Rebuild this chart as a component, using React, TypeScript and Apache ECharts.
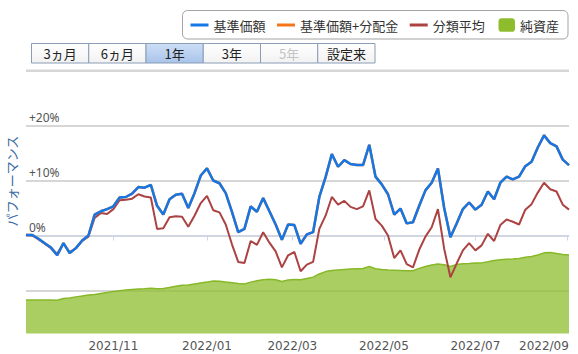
import React, { useEffect, useRef } from 'react';
import * as echarts from 'echarts';

// ---- data ----
const START_DATE = '2021-09-02';
const END_DATE = '2022-09-02';
const SAMPLE_STEP = 3; // one reading every 3rd business day

// 基準価額 (performance, %)
const navReturn = [
  0.1, 0.1, -0.6, -1.4, -2.2, -3.6, -1.4, -3.2, -2.3, -0.9,
  0.0, 3.8, 4.4, 4.8, 5.3, 6.9, 7.0, 7.6, 8.8, 8.7,
  9.2, 5.4, 3.8, 6.6, 7.4, 7.6, 5.0, 7.7, 10.9, 12.2,
  10.0, 9.5, 7.7, 4.3, 0.6, 1.2, 5.3, 4.3, 6.8, 4.4,
  2.0, -0.8, 2.0, 1.9, -1.5, 0.2, 0.6, 7.0, 10.6, 14.8,
  12.5, 13.7, 13.0, 12.8, 12.8, 16.5, 10.7, 9.3, 7.5, 3.8,
  4.9, 2.2, 2.4, 5.4, 8.2, 9.6, 12.2, 5.0, -0.3, 2.2,
  4.8, 6.0, 4.7, 5.6, 8.0, 6.6, 9.6, 10.7, 10.2, 10.7,
  12.6, 13.4, 16.0, 18.2, 16.8, 16.2, 13.8, 12.8,
];

// 基準価額+分配金 (no distributions in the period: identical to 基準価額)
const navWithDividend = [...navReturn];

// 分類平均 (%)
const categoryAvg = [
  0.1, 0.0, -0.7, -1.5, -2.3, -3.3, -1.5, -3.0, -2.3, -1.0,
  -0.2, 3.2, 4.1, 3.9, 4.8, 6.4, 6.5, 6.7, 7.5, 7.1,
  6.9, 1.2, 1.3, 3.3, 3.5, 3.4, 1.6, 3.6, 5.9, 7.2,
  4.6, 4.2, 2.0, -1.6, -4.8, -5.0, -1.0, -1.7, 0.6, -1.3,
  -2.9, -5.8, -3.6, -3.0, -6.5, -5.3, -4.8, 1.2, 3.6, 7.0,
  5.6, 6.3, 5.2, 4.8, 5.3, 8.2, 3.0, 1.8, 0.0, -4.1,
  -2.7, -5.2, -5.8, -2.6, -0.2, 1.5, 4.8, -2.4, -7.6, -5.1,
  -2.7, -1.4, -2.7, -1.8, 0.3, -1.0, 1.9, 2.9, 2.5, 2.0,
  4.7, 5.7, 7.8, 9.6, 8.4, 8.0, 5.6, 4.7,
];

// 純資産 (relative units on a hidden axis)
const netAssets = [
  12.7, 12.7, 12.7, 12.7, 12.7, 12.6, 13.3, 13.5, 13.9, 14.2,
  14.6, 14.8, 15.2, 15.6, 15.9, 16.2, 16.5, 16.7, 16.9, 17.0,
  17.2, 17.0, 17.1, 17.5, 17.9, 18.3, 18.4, 18.8, 19.2, 19.5,
  19.9, 19.8, 19.5, 19.3, 19.0, 18.8, 19.5, 20.0, 20.4, 20.6,
  20.4, 19.7, 20.3, 20.5, 20.4, 20.9, 21.4, 22.6, 23.5, 23.9,
  24.1, 24.3, 24.5, 24.6, 24.7, 25.4, 24.6, 24.3, 24.1, 24.0,
  23.9, 23.8, 23.8, 24.7, 25.4, 26.0, 26.4, 26.1, 25.4, 26.2,
  26.5, 26.6, 26.8, 26.8, 27.2, 27.7, 28.0, 28.2, 28.3, 28.5,
  28.9, 29.2, 29.8, 30.6, 30.7, 30.4, 30.0, 29.8,
];

const Y_MIN = -17.82;
const Y_MAX = 35; // headroom above the unlabelled +30% grid line
const TOP_GRID_VALUE = 30;
const ASSETS_MAX = 110.25;

const lineLegend = ['基準価額', '基準価額+分配金', '分類平均'];
const areaLegend = ['純資産'];
const periodButtons = ['3ヵ月', '6ヵ月', '1年', '3年', '5年', '設定来'];
const selectedPeriod = '1年';
const disabledPeriod = '5年';
const yAxisName = 'パフォーマンス';

const COLORS = {
  nav: '#1577e6',
  navDiv: '#f5761a',
  avg: '#ac4242',
  assets: '#8dbd2d',
  grid: '#d6d6d6',
};

function businessDays(start: string, end: string): string[] {
  const out: string[] = [];
  const d = new Date(start + 'T00:00:00Z');
  const e = new Date(end + 'T00:00:00Z');
  while (d.getTime() <= e.getTime()) {
    const wd = d.getUTCDay();
    if (wd !== 0 && wd !== 6) {
      const y = d.getUTCFullYear();
      const m = String(d.getUTCMonth() + 1).padStart(2, '0');
      const dd = String(d.getUTCDate()).padStart(2, '0');
      out.push(`${y}/${m}/${dd}`);
    }
    d.setUTCDate(d.getUTCDate() + 1);
  }
  return out;
}

export default function App() {
  const ref = useRef<HTMLDivElement>(null);

  useEffect(() => {
    if (!ref.current) return;
    const chart = echarts.init(ref.current, undefined, { renderer: 'svg' });

    const days = businessDays(START_DATE, END_DATE);
    const spread = (arr: number[]) =>
      days.map((_, k) => (k % SAMPLE_STEP === 0 && k / SAMPLE_STEP < arr.length ? arr[k / SAMPLE_STEP] : null));

    const isLabelDay = (index: number) => {
      if (index === 0) return false;
      const cur = days[index];
      const prev = days[index - 1];
      const m = parseInt(cur.slice(5, 7), 10);
      return cur.slice(5, 7) !== prev.slice(5, 7) && m % 2 === 1;
    };
    let lastLabelIdx = -1;
    days.forEach((_, i) => {
      if (isLabelDay(i)) lastLabelIdx = i;
    });

    const btnLeft = 31.5;
    const btnW = 57.25;
    const btnTop = 43.5;
    const btnH = 19.5;
    const buttonEls: any[] = [];
    periodButtons.forEach((label, i) => {
      const selected = label === selectedPeriod;
      buttonEls.push({
        type: 'rect',
        z: 10,
        shape: { x: btnLeft + i * btnW, y: btnTop, width: btnW, height: btnH },
        style: {
          fill: selected
            ? new echarts.graphic.LinearGradient(0, 0, 0, 1, [
                { offset: 0, color: '#cddff6' },
                { offset: 1, color: '#a9c3ea' },
              ])
            : new echarts.graphic.LinearGradient(0, 0, 0, 1, [
                { offset: 0, color: '#ffffff' },
                { offset: 1, color: '#f2f2f2' },
              ]),
          stroke: '#8a9cb6',
          lineWidth: 1,
        },
      });
      buttonEls.push({
        type: 'text',
        z: 11,
        x: btnLeft + i * btnW + btnW / 2,
        y: btnTop + btnH / 2 + 0.5,
        style: {
          text: label,
          fill: label === disabledPeriod ? '#c4c4c4' : '#222222',
          font: '13px "Noto Sans CJK JP"',
          align: 'center',
          verticalAlign: 'middle',
        },
      });
    });

    const baseGraphic: any[] = [
      {
        type: 'rect',
        z: -1,
        shape: { x: 182.5, y: 10.5, width: 385.5, height: 28.5, r: 5 },
        style: { fill: '#ffffff', stroke: '#a3a3a3', lineWidth: 1 },
      },
      ...buttonEls,
      {
        type: 'text',
        x: 11,
        y: 181,
        rotation: Math.PI / 2,
        style: {
          text: yAxisName,
          fill: '#3d6ca3',
          font: '13px "Noto Sans CJK JP"',
          align: 'center',
          verticalAlign: 'middle',
        },
      },
    ];

    const option: any = {
      animation: false,
      backgroundColor: '#ffffff',
      grid: { left: 26, right: 9, top: 43, bottom: 20.5, containLabel: false },
      legend: [
        {
          data: lineLegend,
          left: 190.5,
          top: 17,
          orient: 'horizontal',
          icon: 'rect',
          itemWidth: 18,
          itemHeight: 3,
          itemGap: 11.5,
          padding: 0,
          selectedMode: false,
          textStyle: { fontSize: 13, color: '#333333', fontFamily: '"Noto Sans CJK JP"', lineHeight: 16, padding: [0, 0, 0, 0] },
        },
        {
          data: areaLegend,
          left: 498.5,
          top: 17,
          icon: 'roundRect',
          itemWidth: 16.5,
          itemHeight: 13.5,
          padding: 0,
          selectedMode: false,
          textStyle: { fontSize: 13, color: '#333333', fontFamily: '"Noto Sans CJK JP"', lineHeight: 16 },
        },
      ],
      graphic: baseGraphic,
      xAxis: {
        type: 'category',
        data: days,
        boundaryGap: false,
        axisLine: { show: true, lineStyle: { color: '#ccd6eb', width: 1 } },
        axisTick: {
          show: true,
          length: 5,
          interval: (index: number) => isLabelDay(index),
          lineStyle: { color: '#ccd6eb' },
        },
        axisLabel: {
          interval: (index: number) => isLabelDay(index),
          color: '#555555',
          fontSize: 12,
          fontFamily: '"DejaVu Sans"',
          margin: 6,
          formatter: (value: string, index: number) => {
            const t = value.slice(0, 7);
            return index === lastLabelIdx ? `{r|${t}}` : t;
          },
          rich: {
            r: { color: '#555555', fontSize: 12, fontFamily: '"DejaVu Sans"', padding: [0, 46, 0, 0] },
          },
        },
        splitLine: { show: false },
      },
      yAxis: [
        {
          type: 'value',
          min: Y_MIN,
          max: Y_MAX,
          splitNumber: 5,
          axisLine: { show: false },
          axisTick: { show: false },
          splitLine: {
            show: true,
            showMinLine: false,
            showMaxLine: false,
            lineStyle: { color: COLORS.grid, width: 2 },
          },
          axisLabel: {
            inside: true,
            margin: 3,
            verticalAlign: 'bottom',
            padding: [0, 0, 2, 0],
            color: '#555555',
            fontSize: 12,
            fontFamily: '"Noto Sans"',
            formatter: (v: number) => {
              if (Math.abs(v) < 1e-9) return '0%';
              if (v > 0 && v < 29.9 && Math.abs(v % 10) < 1e-9) return `+${v}%`;
              return '';
            },
          },
          z: 0,
        },
        { type: 'value', min: 0, max: ASSETS_MAX, show: false, splitLine: { show: false } },
      ],
      series: [
        {
          name: '純資産',
          type: 'line',
          yAxisIndex: 1,
          data: spread(netAssets),
          connectNulls: true,
          symbol: 'none',
          showSymbol: false,
          lineStyle: { color: '#86b828', width: 1.5 },
          itemStyle: { color: COLORS.assets },
          areaStyle: { color: COLORS.assets, opacity: 0.74 },
          z: 1,
        },
        {
          name: '分類平均',
          type: 'line',
          data: spread(categoryAvg),
          connectNulls: true,
          symbol: 'none',
          showSymbol: false,
          lineStyle: { color: COLORS.avg, width: 2 },
          itemStyle: { color: COLORS.avg },
          z: 2,
        },
        {
          name: '基準価額+分配金',
          type: 'line',
          data: spread(navWithDividend),
          connectNulls: true,
          symbol: 'none',
          showSymbol: false,
          lineStyle: { color: COLORS.navDiv, width: 2.5 },
          itemStyle: { color: COLORS.navDiv },
          z: 3,
        },
        {
          name: '基準価額',
          type: 'line',
          data: spread(navReturn),
          connectNulls: true,
          symbol: 'none',
          showSymbol: false,
          lineStyle: { color: COLORS.nav, width: 2.5 },
          itemStyle: { color: COLORS.nav },
          z: 4,
        },
      ],
    };

    chart.setOption(option);

    // top (+30%) grid line positioned through the axis scale
    try {
      const yTop = chart.convertToPixel({ yAxisIndex: 0 } as any, TOP_GRID_VALUE) as any;
      const xStart = chart.convertToPixel({ xAxisIndex: 0 } as any, 0) as any;
      const xEnd = chart.convertToPixel({ xAxisIndex: 0 } as any, days.length - 1) as any;
      if ([yTop, xStart, xEnd].every((v) => typeof v === 'number' && isFinite(v))) {
        chart.setOption({
          graphic: [
            ...baseGraphic,
            {
              type: 'line',
              z: -2,
              silent: true,
              shape: { x1: xStart, y1: yTop, x2: xEnd, y2: yTop },
              style: { stroke: COLORS.grid, lineWidth: 2 },
            },
          ],
        });
      }
    } catch (e) {
      // ignore
    }

    return () => chart.dispose();
  }, []);

  return (
    <div
      ref={ref}
      style={{ position: 'fixed', left: 0, top: 0, width: 578, height: 354, background: '#ffffff' }}
    />
  );
}
